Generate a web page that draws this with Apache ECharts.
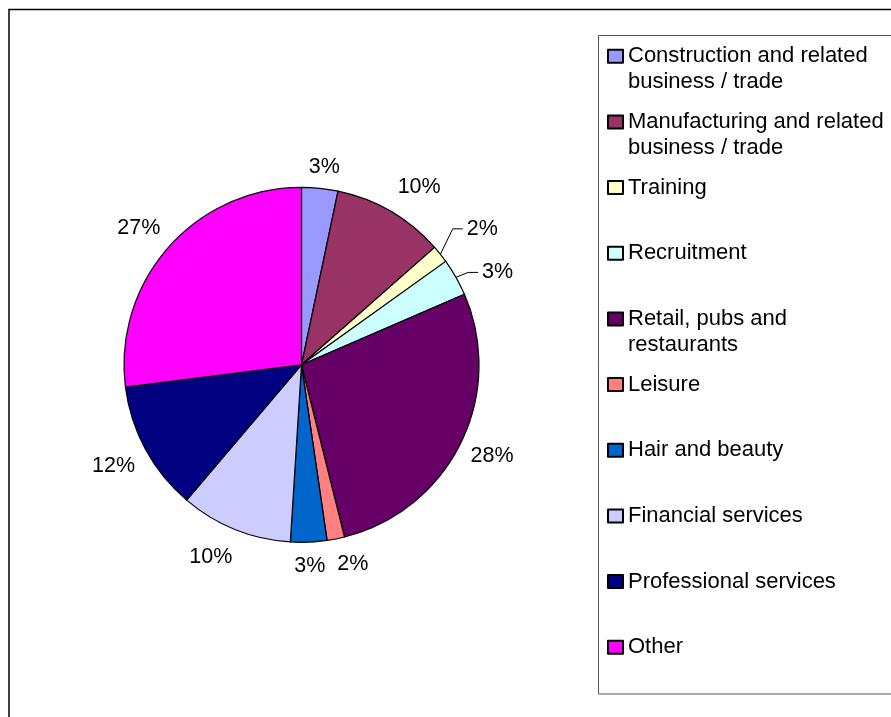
<!DOCTYPE html>
<html><head><meta charset="utf-8">
<script src="https://cdn.jsdelivr.net/npm/echarts@6/dist/echarts.min.js"></script>
<style>html,body{margin:0;padding:0;background:#fff}#c{width:891px;height:717px}</style>
</head><body><div id="c"></div>
<script>
// ---- data ----
const categories = ['Construction and related business / trade', 'Manufacturing and related business / trade', 'Training', 'Recruitment', 'Retail, pubs and restaurants', 'Leisure', 'Hair and beauty', 'Financial services', 'Professional services', 'Other'];
const legendLabels = ['Construction and related\nbusiness / trade', 'Manufacturing and related\nbusiness / trade', 'Training', 'Recruitment', 'Retail, pubs and\nrestaurants', 'Leisure', 'Hair and beauty', 'Financial services', 'Professional services', 'Other'];
const shares = [3.3, 10.2, 1.6, 3.4, 27.6, 1.6, 3.3, 10.2, 11.8, 27.0];
const colors = ['#9999FF', '#993366', '#FFFFCC', '#CCFFFF', '#660066', '#FF8080', '#0066CC', '#CCCCFF', '#000080', '#FF00FF'];

// ---- label placement tweaks (Excel-like best fit) ----
const FONT = '"Liberation Sans", Arial, sans-serif';
const GAP = 12;
const labelTweaks = {
  0: { shiftX: 2, shiftY: 3 },
  1: { shiftX: 12, shiftY: 4 },
  2: { dist: 40.8, shiftX: 10, leader: true },
  3: { dist: 10, shiftX: 33, leader: true },
  4: { shiftX: -1, shiftY: -3 },
  5: { shiftX: 12 },
  7: { shiftX: -13 },
  9: { shiftX: -3, shiftY: 4 }
};

const chart = echarts.init(document.getElementById('c'), null, { renderer: 'canvas' });

function labelLayout(params) {
  const pts = params.labelLinePoints;
  if (!pts) return {};
  const e = pts[0];
  let ux = pts[1][0] - e[0], uy = pts[1][1] - e[1];
  const len = Math.hypot(ux, uy) || 1;
  ux /= len; uy /= len;
  const w = params.labelRect.width, h = params.labelRect.height;
  const t = labelTweaks[params.dataIndex] || {};
  const d = t.dist != null ? t.dist : GAP + Math.abs(ux) * w / 2 + Math.abs(uy) * h / 2;
  const cx = e[0] + ux * d + (t.shiftX || 0);
  const cy = e[1] + uy * d + (t.shiftY || 0);
  let line;
  if (t.leader) {
    const left = cx - w / 2 - 4;
    line = [[e[0], e[1]], [left - 10, cy], [left, cy]];
  } else {
    line = [[e[0], e[1]], [e[0], e[1]], [e[0], e[1]]];
  }
  return { x: cx, y: cy, align: 'center', verticalAlign: 'middle', labelLinePoints: line };
}

const option = {
  backgroundColor: '#fff',
  animation: false,
  graphic: [
    { type: 'rect', shape: { x: 9, y: 9.5, width: 1000, height: 1000 }, style: { fill: 'none', stroke: '#000', lineWidth: 1.5 }, silent: true, z: -10 },
    { type: 'rect', shape: { x: 598.5, y: 35.5, width: 400, height: 658.5 }, style: { fill: '#fff', stroke: '#555', lineWidth: 1 }, silent: true, z: -5 }
  ],
  legend: {
    orient: 'vertical',
    left: 607,
    top: 17.3,
    padding: 0,
    itemWidth: 15,
    itemHeight: 13,
    itemGap: -12.34,
    icon: 'rect',
    selectedMode: false,
    data: categories,
    formatter: function (name) {
      const lines = legendLabels[categories.indexOf(name)].split('\n');
      return '\n' + lines.join('\n') + (lines.length === 1 ? '\n' : '');
    },
    textStyle: { fontSize: 22, lineHeight: 26, color: '#000', fontFamily: FONT }
  },
  series: [{
    type: 'pie',
    center: [301.5, 364.8],
    radius: 177.5,
    startAngle: 90,
    clockwise: true,
    avoidLabelOverlap: false,
    itemStyle: { borderColor: '#000', borderWidth: 1.2 },
    emphasis: { disabled: true },
    label: {
      show: true,
      position: 'outside',
      formatter: function (p) { return Math.round(p.percent) + '%'; },
      fontSize: 21.5,
      color: '#000',
      fontFamily: FONT
    },
    labelLine: { show: true, length: 10, length2: 10, lineStyle: { color: '#000', width: 1 } },
    labelLayout: labelLayout,
    data: categories.map(function (n, i) {
      const t = labelTweaks[i] || {};
      return {
        name: n,
        value: shares[i],
        itemStyle: { color: colors[i] },
        labelLine: t.leader ? {} : { lineStyle: { opacity: 0 } }
      };
    })
  }]
};
chart.setOption(option);
</script>
</body></html>
